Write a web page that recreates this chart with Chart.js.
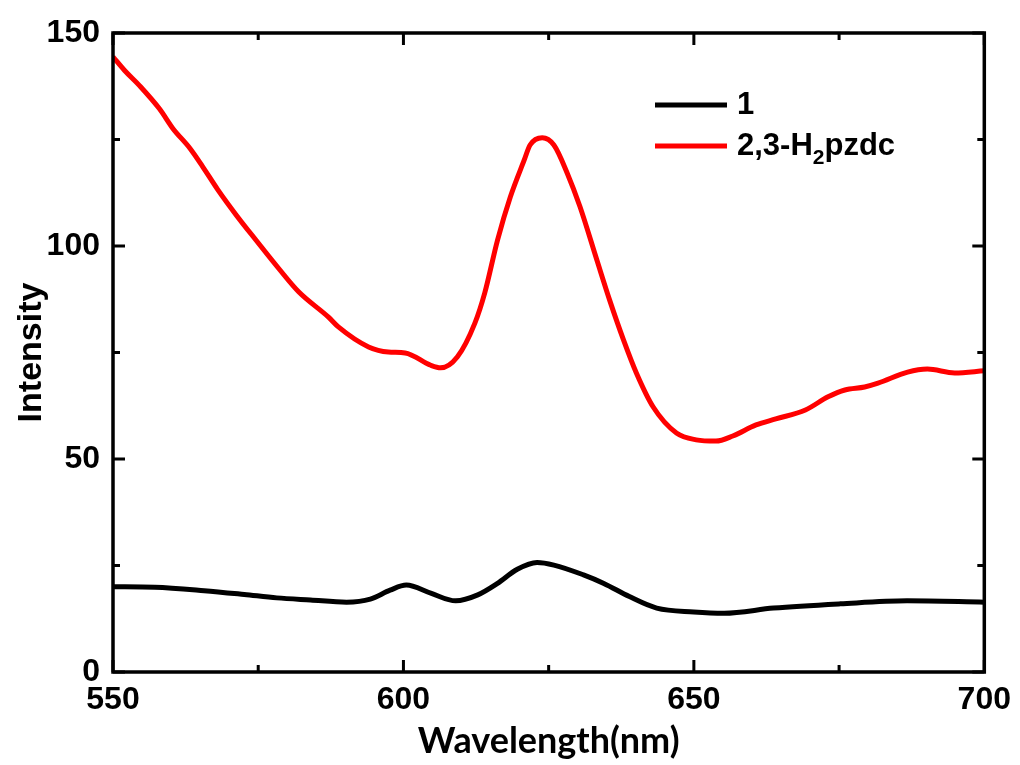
<!DOCTYPE html>
<html>
<head>
<meta charset="utf-8">
<script src="https://cdn.jsdelivr.net/npm/chart.js@4.4.1/dist/chart.umd.min.js"></script>
<style>
  html, body { margin: 0; padding: 0; background: #fff; }
  #spectrum { display: block; }
</style>
</head>
<body>
<canvas id="spectrum" width="1020" height="765"></canvas>
<script>
// Emission spectra: compound 1 and the free ligand 2,3-H2pzdc
const xTicks = [550, 600, 650, 700];
const yTicks = [0, 50, 100, 150];

const ligandLabel = "2,3-H2pzdc";
const ligandNm = [550, 552, 554.6, 558, 560.3, 563.2, 565.4, 568, 571.2, 574.6, 578.6, 582, 587.1, 588.8, 594,
  597.4, 600.3, 604.7, 606.4, 609.3, 612.3, 614, 616.2, 618.4, 620.8, 621.8, 623.9, 625.9, 628.2, 630.4,
  633.3, 635.5, 637.9, 640.1, 643, 647, 650.4, 653.8, 656.7, 660.7, 664.1, 669.2, 673.1, 676, 679.4,
  681.7, 686.8, 690.2, 694.9, 700];
const ligandIntensity = [144.4, 141.2, 137.6, 132.2, 127.6, 123, 118.7, 113.3, 107.3, 101.4, 94.6, 89.2, 83.3, 81, 76.3,
  75.1, 74.9, 72, 71.4, 74, 81.9, 89, 101.4, 111.5, 120.2, 123.7, 125.4, 123.7, 117.1, 109.2,
  96.7, 87.3, 77.9, 70.2, 62.2, 56.1, 54.5, 54.2, 55.4, 58, 59.4, 61.5, 64.6, 66.2, 66.9,
  67.8, 70.4, 71.1, 70.2, 70.7];

const compoundLabel = "1";
const compoundNm = [550, 557.2, 565.7, 572.6, 578.2, 584, 590.2, 594.3, 597.7, 600.5, 604.7, 609, 612.8, 616.2,
  619.6, 623, 625.9, 631, 634.5, 638.9, 643.6, 650, 655.2, 663.7, 675.2, 686.7, 700];
const compoundIntensity = [20, 19.9, 19.1, 18.2, 17.4, 16.9, 16.4, 17.1, 19.2, 20.4, 18.5, 16.7, 18.1, 20.8,
  24.1, 25.7, 25.1, 22.8, 20.8, 17.7, 15, 14.1, 13.8, 15, 16, 16.7, 16.4];

const sansBold = "'Liberation Sans Narrow', 'Liberation Sans', Arial, sans-serif";
const tickFont = { family: sansBold, size: 32, weight: "bold" };

function toPoints(xs, ys) {
  return xs.map((x, i) => ({ x: x, y: ys[i] }));
}

// frame with inward major/minor ticks on all four sides
const frameTicks = {
  id: "frameTicks",
  afterDatasetsDraw(chart) {
    const { ctx, chartArea: a, scales } = chart;
    const majorLen = 12, minorLen = 7;
    ctx.save();
    ctx.strokeStyle = "#000";
    ctx.lineWidth = 3.5;
    ctx.lineCap = "butt";
    ctx.strokeRect(a.left, a.top, a.right - a.left, a.bottom - a.top);

    const xs = scales.x.ticks.map((t) => t.value);
    const ys = scales.y.ticks.map((t) => t.value);
    const xMinor = xs.slice(1).map((v, i) => (v + xs[i]) / 2);
    const yMinor = ys.slice(1).map((v, i) => (v + ys[i]) / 2);

    ctx.lineWidth = 3;
    ctx.beginPath();
    xs.forEach((v) => {
      const px = scales.x.getPixelForValue(v);
      ctx.moveTo(px, a.bottom); ctx.lineTo(px, a.bottom - majorLen);
      ctx.moveTo(px, a.top); ctx.lineTo(px, a.top + majorLen);
    });
    xMinor.forEach((v) => {
      const px = scales.x.getPixelForValue(v);
      ctx.moveTo(px, a.bottom); ctx.lineTo(px, a.bottom - minorLen);
      ctx.moveTo(px, a.top); ctx.lineTo(px, a.top + minorLen);
    });
    ys.forEach((v) => {
      const py = scales.y.getPixelForValue(v);
      ctx.moveTo(a.left, py); ctx.lineTo(a.left + majorLen, py);
      ctx.moveTo(a.right, py); ctx.lineTo(a.right - majorLen, py);
    });
    yMinor.forEach((v) => {
      const py = scales.y.getPixelForValue(v);
      ctx.moveTo(a.left, py); ctx.lineTo(a.left + minorLen, py);
      ctx.moveTo(a.right, py); ctx.lineTo(a.right - minorLen, py);
    });
    ctx.stroke();
    ctx.restore();
  },
};

// legend with a subscript in the ligand name
const subLegend = {
  id: "subLegend",
  afterDraw(chart) {
    const { ctx } = chart;
    const x0 = 655, x1 = 727, tx = 737;
    const rows = [105, 146];
    const big = "bold 31px " + sansBold;
    const small = "bold 21px " + sansBold;
    ctx.save();
    ctx.textBaseline = "middle";
    ctx.fillStyle = "#000";
    chart.data.datasets.forEach((ds, i) => {
      const y = rows[i];
      ctx.strokeStyle = ds.borderColor;
      ctx.lineWidth = 5;
      ctx.beginPath();
      ctx.moveTo(x0, y); ctx.lineTo(x1, y);
      ctx.stroke();

      const m = ds.label.match(/^(.*H)(2)(.*)$/);
      if (m) {
        let x = tx;
        ctx.font = big;
        ctx.fillText(m[1], x, y);
        x += ctx.measureText(m[1]).width;
        ctx.font = small;
        ctx.fillText(m[2], x, y + 12);
        x += ctx.measureText(m[2]).width;
        ctx.font = big;
        ctx.fillText(m[3], x, y);
      } else {
        ctx.font = big;
        ctx.fillText(ds.label, tx, y);
      }
    });
    ctx.restore();
  },
};

new Chart(document.getElementById("spectrum"), {
  type: "line",
  data: {
    datasets: [
      {
        label: compoundLabel,
        data: toPoints(compoundNm, compoundIntensity),
        borderColor: "#000000",
        borderWidth: 5,
        pointRadius: 0,
        tension: 0.4,
        cubicInterpolationMode: "monotone",
      },
      {
        label: ligandLabel,
        data: toPoints(ligandNm, ligandIntensity),
        borderColor: "#ff0000",
        borderWidth: 5,
        pointRadius: 0,
        tension: 0.4,
        cubicInterpolationMode: "monotone",
      },
    ],
  },
  options: {
    responsive: false,
    animation: false,
    layout: { padding: { top: 33, right: 30, left: 0, bottom: 0 } },
    plugins: {
      legend: { display: false },
      tooltip: { enabled: false },
    },
    scales: {
      x: {
        type: "linear",
        min: 550,
        max: 700,
        afterFit: (scale) => { scale.height = 93; },
        afterBuildTicks: (scale) => { scale.ticks = xTicks.map((v) => ({ value: v })); },
        grid: { display: false, drawTicks: false },
        border: { display: false },
        ticks: { color: "#000", font: tickFont, padding: 9, maxRotation: 0 },
        title: {
          display: true,
          text: "Wavelength(nm)",
          color: "#000",
          font: { family: "Lato, 'Open Sans', sans-serif", size: 36, weight: "bold" },
          padding: { top: 0, bottom: 2 },
        },
      },
      y: {
        min: 0,
        max: 150,
        afterFit: (scale) => { scale.width = 113; },
        afterBuildTicks: (scale) => { scale.ticks = yTicks.map((v) => ({ value: v })); },
        grid: { display: false, drawTicks: false },
        border: { display: false },
        ticks: { color: "#000", font: tickFont, padding: 13 },
        title: {
          display: true,
          text: "Intensity",
          color: "#000",
          font: { family: sansBold, size: 34, weight: "bold" },
          padding: { top: 11, bottom: 0 },
        },
      },
    },
  },
  plugins: [frameTicks, subLegend],
});
</script>
</body>
</html>
